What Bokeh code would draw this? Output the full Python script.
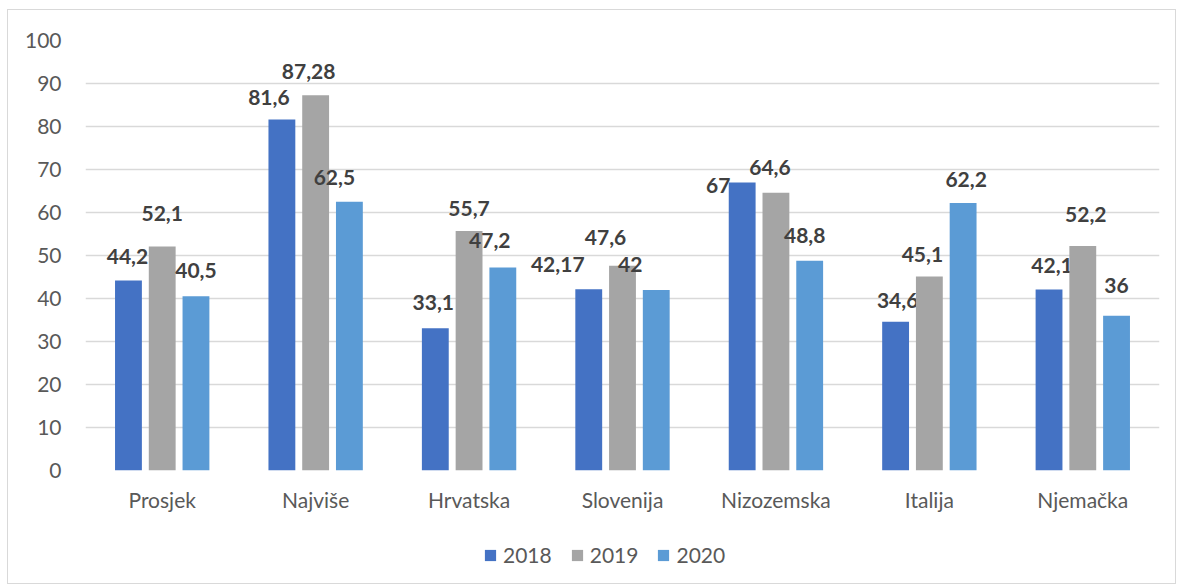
from bokeh.plotting import figure
from bokeh.layouts import column
from bokeh.models import ColumnDataSource, FactorRange, Legend, LegendItem, SingleIntervalTicker
from bokeh.transform import dodge
from bokeh.core.properties import value
from bokeh.embed import file_html
from bokeh.resources import INLINE

categories = ["Prosjek", "Najviše", "Hrvatska", "Slovenija", "Nizozemska", "Italija", "Njemačka"]
v2018 = [44.2, 81.6, 33.1, 42.17, 67, 34.6, 42.1]
v2019 = [52.1, 87.28, 55.7, 47.6, 64.6, 45.1, 52.2]
v2020 = [40.5, 62.5, 47.2, 42, 48.8, 62.2, 36]
series_names = ["2018", "2019", "2020"]

# label placement tweaks (pixels) mimicking the original label layout
dx = {"2018": [-1, -13, -2, -31, -24, 2, 3],
      "2019": [0, -7, 0, -17, -6, -7, 3],
      "2020": [0, -15, -13, -26, -5, 3, 0]}
dy = {"2018": [24, 22, 26, 25, -3, 21, 24],
      "2019": [33, 24, 22, 28, 25, 22, 32],
      "2020": [26, 24, 27, 25, 25, 24, 30]}

colors = ["#4472C4", "#A5A5A5", "#5B9BD5"]
FONT = "Lato"
FS = "21px"

def fmt(v):
    return ("%g" % v).replace(".", ",")

xr = FactorRange(*categories, range_padding=0)
p = figure(x_range=xr, y_range=(0, 100),
           frame_width=1074, frame_height=430, output_backend="svg", toolbar_location=None,
           min_border_left=77, min_border_right=16, min_border_top=30, min_border_bottom=40)
p.outline_line_color = None
p.background_fill_color = "white"
p.border_fill_color = "white"

p.xgrid.grid_line_color = None
p.ygrid.grid_line_color = "#D9D9D9"
p.ygrid.grid_line_width = 1.5
p.yaxis.ticker = SingleIntervalTicker(interval=10)
for ax in (p.xaxis[0], p.yaxis[0]):
    ax.axis_line_color = None
    ax.major_tick_line_color = None
    ax.minor_tick_line_color = None
    ax.major_label_text_font = FONT
    ax.major_label_text_font_size = FS
    ax.major_label_text_color = "#595959"
p.yaxis.major_label_standoff = 18
p.xaxis.major_label_standoff = 10

# legend strip below the chart (same data, bars kept out of view)
lg = figure(x_range=xr, y_range=(1000, 1001), width=1167, height=69, output_backend="svg",
            toolbar_location=None, min_border_left=77, min_border_right=16,
            min_border_top=0, min_border_bottom=0)
lg.axis.visible = False
lg.grid.grid_line_color = None
lg.outline_line_color = None
lg.border_fill_color = "white"

offsets = [-0.22, 0.0, 0.22]
series_vals = [v2018, v2019, v2020]
items = []
for name, vals, off, col in zip(series_names, series_vals, offsets, colors):
    src = ColumnDataSource(dict(cat=categories, val=vals, lab=[fmt(v) for v in vals],
                                dxo=dx[name], dyo=[-d for d in dy[name]]))
    p.vbar(x=dodge("cat", off, range=xr), top="val", width=0.175, source=src,
           fill_color=col, line_color=None)
    p.text(x=dodge("cat", off, range=xr), y="val", text="lab", source=src,
           x_offset="dxo", y_offset="dyo",
           text_font=value(FONT), text_font_size=FS, text_font_style="bold",
           text_color="#404040", text_align="center", text_baseline="middle")
    r = lg.vbar(x=dodge("cat", off, range=xr), top="val", width=0.175, source=src,
                fill_color=col, line_color=None)
    items.append(LegendItem(label=name, renderers=[r]))

legend = Legend(items=items, orientation="horizontal", location=(398, 16),
                label_text_font=FONT, label_text_font_size=FS, label_text_color="#595959",
                glyph_width=14, glyph_height=14, spacing=18, label_standoff=6,
                border_line_color=None, background_fill_alpha=0, margin=0, padding=4)
lg.add_layout(legend)

layout = column(p, lg, spacing=0,
                styles={"border": "1px solid #D9D9D9", "margin-left": "7px", "margin-top": "9px"})

open("out.html", "w").write(file_html(layout, INLINE))
